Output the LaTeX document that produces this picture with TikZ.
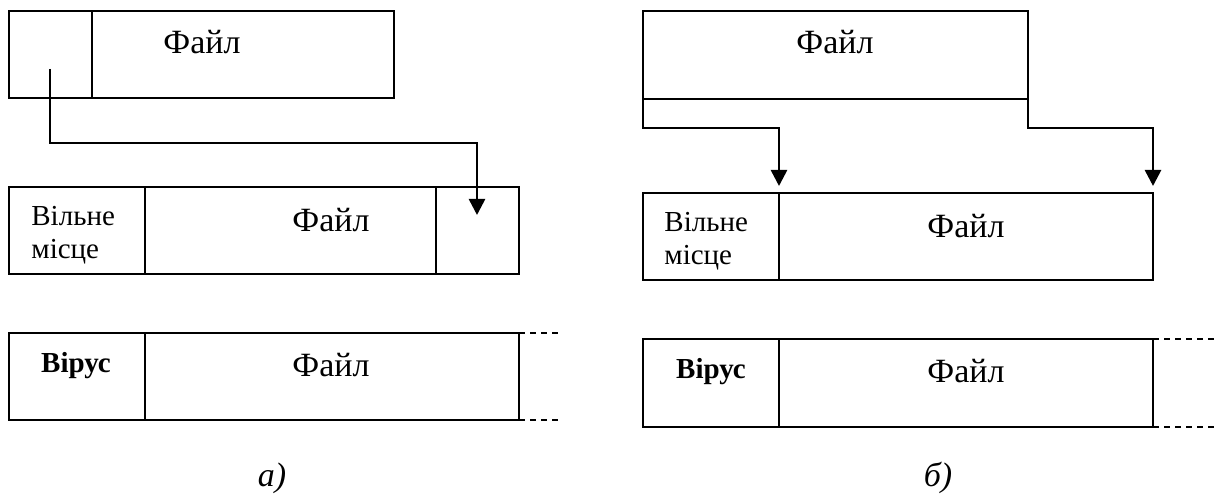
\documentclass[tikz,border=0pt]{standalone}
\usepackage{fontspec}
\setmainfont{Liberation Serif}
\usetikzlibrary{arrows.meta}
\begin{document}
\begin{tikzpicture}[x=0.5pt,y=-0.5pt,
  cell/.style={draw, line width=0.95pt, rectangle, anchor=north west, inner sep=0pt, outer sep=0pt},
  conn/.style={line width=1.3pt, -{Triangle[width=8pt,length=8pt]}},
  dashline/.style={line width=0.95pt, dash pattern=on 3pt off 2.5pt},
  bigtxt/.style={inner sep=0pt, font=\fontsize{17}{20}\selectfont},
  smalltxt/.style={inner sep=0pt, font=\fontsize{14.5}{16.5}\selectfont, align=left},
  boldtxt/.style={inner sep=0pt, font=\fontsize{14.5}{16.5}\selectfont\bfseries},
  captxt/.style={inner sep=0pt, font=\fontsize{17}{20}\selectfont\itshape}]
\useasboundingbox (0,0) rectangle (1219,497);
% ---------- (a) ----------
\node[cell, minimum width=41.5pt, minimum height=43.5pt] (a1L) at (9,11) {};
\node[cell, minimum width=151pt, minimum height=43.5pt] (a1R) at (92,11) {};
\node[bigtxt, anchor=base west] (fa1) at (163,54) {Файл};
\node[cell, minimum width=68pt, minimum height=43.5pt] (a2L) at (9,187) {};
\node[cell, minimum width=145.5pt, minimum height=43.5pt] (a2M) at (145,187) {};
\node[cell, minimum width=41.5pt, minimum height=43.5pt] (a2R) at (436,187) {};
\node[smalltxt, anchor=base west] (va) at (31,258) {Вільне\\місце};
\node[bigtxt, anchor=base] (fa2) at (331,231) {Файл};
\node[cell, minimum width=68pt, minimum height=43.5pt] (a3L) at (9,333) {};
\node[cell, minimum width=187pt, minimum height=43.5pt] (a3R) at (145,333) {};
\node[boldtxt, anchor=base] (ra) at (76,372) {Вірус};
\node[bigtxt, anchor=base] (fa3) at (331,376) {Файл};
\draw[dashline] (a3R.north east) -- ++(39,0);
\draw[dashline] (a3R.south east) -- ++(39,0);
\coordinate (pa) at (50,69);
\coordinate (ta) at (477,215);
\draw[conn] (pa) -- ++(0,74) -| (ta);
\node[captxt, anchor=base] (capa) at (272,486) {а)};
% ---------- (b) ----------
\node[cell, minimum width=192.5pt, minimum height=44pt] (b1) at (643,11) {};
\node[bigtxt, anchor=base] (fb1) at (835,54) {Файл};
\node[cell, minimum width=68pt, minimum height=43.5pt] (b2L) at (643,193) {};
\node[cell, minimum width=187pt, minimum height=43.5pt] (b2R) at (779,193) {};
\node[smalltxt, anchor=base west] (vb) at (664,264) {Вільне\\місце};
\node[bigtxt, anchor=base] (fb2) at (966,237) {Файл};
\node[cell, minimum width=68pt, minimum height=44pt] (b3L) at (643,339) {};
\node[cell, minimum width=187pt, minimum height=44pt] (b3R) at (779,339) {};
\node[boldtxt, anchor=base] (rb) at (711,378) {Вірус};
\node[bigtxt, anchor=base] (fb3) at (966,382) {Файл};
\draw[dashline] (b3R.north east) -- ++(66,0);
\draw[dashline] (b3R.south east) -- ++(66,0);
\draw[conn] (b1.south west) -- ++(0,29) -| ([yshift=3.5pt]b2L.north east);
\draw[conn] (b1.south east) -- ++(0,29) -| ([yshift=3.5pt]b2R.north east);
\node[captxt, anchor=base] (capb) at (938,486) {б)};
\end{tikzpicture}
\end{document}
